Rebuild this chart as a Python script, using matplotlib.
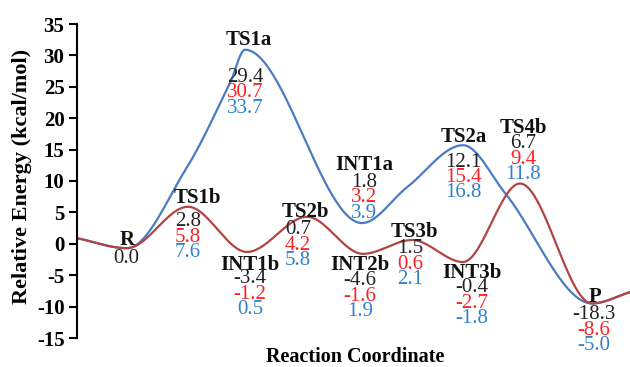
import numpy as np
import matplotlib
matplotlib.use("Agg")
from matplotlib import pyplot as plt

plt.rcParams['font.family'] = ['Liberation Serif', 'DejaVu Serif']
plt.rcParams['axes.unicode_minus'] = False

# species labels and their energies (kcal/mol) for the three methods
species = ['R', 'TS1b', 'INT1b', 'TS2b', 'INT2b', 'TS3b', 'INT3b',
           'TS1a', 'INT1a', 'TS2a', 'TS4b', 'P']
e_black = [0.0, 2.8, -3.4, 0.7, -4.6, 1.5, -0.4, 29.4, 1.8, 12.1, 6.7, -18.3]
e_red = [None, 5.8, -1.2, 4.2, -1.6, 0.6, -2.7, 30.7, 3.2, 15.4, 9.4, -8.6]
e_blue = [None, 7.6, 0.5, 5.8, 1.9, 2.1, -1.8, 33.7, 3.9, 16.8, 11.8, -5.0]

# profile nodes (reaction coordinate, energy)
path_b_x = [77, 127, 188, 247, 307, 363, 412, 463, 520, 592, 630]
path_b_y = [0.9, -0.7, 5.9, -1.3, 4.3, -1.6, 0.6, -2.9, 9.6, -9.5, -7.7]
path_a_x = [77, 127, 187, 230, 245, 362, 407, 463, 505, 592, 630]
path_a_y = [0.9, -0.7, 12.2, 25.6, 30.9, 3.3, 9.0, 15.7, 8.1, -9.5, -7.7]

# label layout: name position, first value position
name_pos = [(127, 0.6), (197, 7.3), (250, -3.4), (305, 5.1), (360, -3.4),
            (414, 1.9), (472, -4.6), (249, 32.5), (364, 12.5), (464, 17.0),
            (523, 18.4), (595, -8.5)]
val_pos = [(126, -2.4), (188, 3.5), (250, -5.6), (298, 2.2), (360, -5.9),
           (410, -0.8), (472, -7.0), (245, 26.5), (364, 9.8), (463, 13.0),
           (523, 15.9), (594, -11.3)]
line_gap = 2.45


def smooth(xn, yn, n=60):
    xn = np.asarray(xn, float)
    yn = np.asarray(yn, float)
    m = np.zeros_like(yn)
    for i in range(1, len(xn) - 1):
        if (yn[i] - yn[i - 1]) * (yn[i + 1] - yn[i]) > 0:
            m[i] = (yn[i + 1] - yn[i - 1]) / (xn[i + 1] - xn[i - 1])
    m[0] = (yn[1] - yn[0]) / (xn[1] - xn[0])
    m[-1] = (yn[-1] - yn[-2]) / (xn[-1] - xn[-2])
    xs, ys = [], []
    for i in range(len(xn) - 1):
        h = xn[i + 1] - xn[i]
        t = np.linspace(0, 1, n, endpoint=False)
        h00 = 2 * t**3 - 3 * t**2 + 1
        h10 = t**3 - 2 * t**2 + t
        h01 = -2 * t**3 + 3 * t**2
        h11 = t**3 - t**2
        xs.append(xn[i] + t * h)
        ys.append(h00 * yn[i] + h10 * h * m[i] + h01 * yn[i + 1] + h11 * h * m[i + 1])
    xs.append([xn[-1]])
    ys.append([yn[-1]])
    return np.concatenate(xs), np.concatenate(ys)


fig = plt.figure(figsize=(6.3, 3.67), dpi=100)
ax = fig.add_axes([77 / 630, 29 / 367, 553 / 630, 314 / 367])

xa, ya = smooth(path_a_x, path_a_y)
xb, yb = smooth(path_b_x, path_b_y)
ax.plot(xa, ya, color='#4a7cc3', lw=1.6)
ax.plot(xb, yb, color='#b24442', lw=1.6)

for i, name in enumerate(species):
    ax.text(name_pos[i][0], name_pos[i][1], name, ha='center', va='center',
            fontsize=15, fontweight='bold', color='#111111')
    vx, vy = val_pos[i]
    for k, (vals, col) in enumerate([(e_black, '#222222'), (e_red, '#ff2020'),
                                     (e_blue, '#2f80d0')]):
        if vals[i] is None:
            continue
        ax.text(vx, vy - k * line_gap, f"{vals[i]:.1f}", ha='center',
                va='center', fontsize=15, color=col)

ax.set_xlim(77, 630)
ax.set_ylim(-15, 35)
ax.set_yticks(np.arange(-15, 36, 5))
ax.set_xticks([])
for s in ['top', 'right', 'bottom']:
    ax.spines[s].set_visible(False)
ax.spines['left'].set_linewidth(1.5)
ax.tick_params(axis='y', direction='out', length=6, width=1.5, labelsize=15, pad=3)
for lbl in ax.get_yticklabels():
    lbl.set_fontweight('bold')

fig.text(22 / 630, 1 - 176 / 367, 'Relative Energy (kcal/mol)', rotation=90,
         ha='center', va='center', fontsize=16, fontweight='bold')
fig.text(355 / 630, 1 - 357 / 367, 'Reaction Coordinate', ha='center',
         va='center', fontsize=14.5, fontweight='bold')

fig.savefig('out.png', dpi=100)
